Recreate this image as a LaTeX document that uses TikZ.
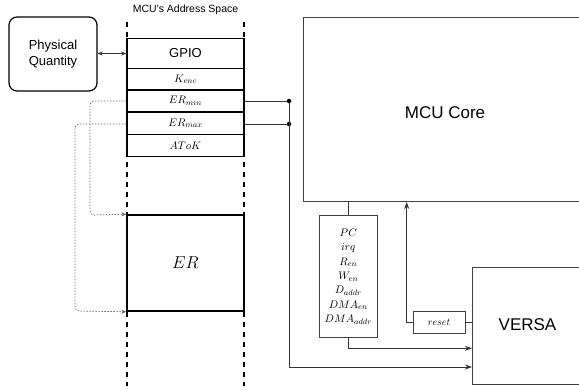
\documentclass[tikz,border=0pt]{standalone}
\usepackage{fontspec}
\setmainfont{Liberation Sans}
\usetikzlibrary{arrows.meta}
\begin{document}
\begin{tikzpicture}[x=1pt,y=-1pt,
  memcell/.style={draw,line width=1.5pt,minimum width=117pt,inner sep=0pt,font=\fontsize{11}{13}\selectfont},
  blk/.style={draw=black!75,line width=1pt,inner sep=0pt},
  conn/.style={draw=black!80,line width=1pt},
  dotconn/.style={draw=black!60,line width=0.7pt,dash pattern=on 1.5pt off 1.5pt,rounded corners=4pt,-{Stealth[length=5pt,width=4pt]}},
  arr/.style={-{Stealth[length=7pt,width=5pt]}},
  junc/.style={circle,fill=black,inner sep=0pt,minimum size=4.5pt}]
\useasboundingbox (0,0) rectangle (579,389);
\clip (0,0) rectangle (579,389);
% title
\node[font=\fontsize{10.5}{12}\selectfont] (title) at (185.5,10) {MCU's Address Space};
% address space dashed boundaries
\coordinate (lt) at (127,22); \coordinate (lb) at (127,386);
\coordinate (rt) at (244,22); \coordinate (rb) at (244,386);
\draw[line width=1.5pt,dash pattern=on 5pt off 5pt] (lt) -- (lb);
\draw[line width=1.5pt,dash pattern=on 5pt off 5pt] (rt) -- (rb);
% memory cells
\node[memcell,minimum height=30pt,font=\fontsize{13}{15}\selectfont] (gpio) at (185.5,53.5) {GPIO};
\node[memcell,minimum height=21.5pt] (kenc) at (185.5,79.25) {$K_{enc}$};
\node[memcell,minimum height=22pt] (ermin) at (185.5,101) {$ER_{min}$};
\node[memcell,minimum height=22.5pt] (ermax) at (185.5,123.25) {$ER_{max}$};
\node[memcell,minimum height=22pt] (atok) at (185.5,145.5) {$AToK$};
\node[memcell,minimum height=96pt,font=\fontsize{16}{18}\selectfont] (er) at (185.5,263) {$ER$};
% physical quantity
\node[draw,line width=1.2pt,rounded corners=8pt,minimum width=88pt,minimum height=74pt,align=center,font=\fontsize{13}{15.5}\selectfont] (pq) at (53,54) {Physical\\Quantity};
\draw[conn,line width=0.8pt,{Stealth[length=5pt,width=4pt]}-{Stealth[length=5pt,width=4pt]}] (pq.east |- gpio.west) -- (gpio.west);
% MCU core
\node[blk,minimum width=300pt,minimum height=184.3pt,anchor=north west] (mcu) at (302.7,16.7) {};
\node[font=\fontsize{17}{19}\selectfont] (mculbl) at (445,113) {MCU Core};
% VERSA
\node[blk,minimum width=150pt,minimum height=117pt,anchor=north west] (versa) at (472,267) {};
\node[font=\fontsize{17}{19}\selectfont] (versalbl) at (527.5,325) {VERSA};
% signal box
\node[blk,line width=0.8pt,minimum width=58.7pt,minimum height=122pt,align=center,font=\fontsize{11}{14.4}\selectfont] (sig) at (348.3,276.7)
 {$PC$\\$irq$\\$R_{en}$\\$W_{en}$\\$D_{addr}$\\$DMA_{en}$\\$DMA_{addr}$};
% reset box
\node[blk,line width=0.8pt,minimum width=52pt,minimum height=21.6pt,font=\fontsize{10}{12}\selectfont] (reset) at (439,322.5) {$reset$};
% junctions
\node[junc] (j1) at (289,101) {};
\node[junc] (j2) at (289,124) {};
\coordinate (jb) at (289,367);
\draw[conn] (ermin.east) -- (j1);
\draw[conn] (ermax.east |- j2) -- (j2);
\draw[conn,arr] (j1) -- (jb) -- (jb -| versa.west);
% MCU to signal box, signal box to VERSA
\draw[conn] (sig.north |- mcu.south) -- (sig.north);
\coordinate (sb) at (348.3,348.3);
\draw[conn,arr] (sig.south) -- (sb) -- (sb -| versa.west);
% reset path
\coordinate (rc) at (406.7,322.5);
\draw[conn] (versa.west |- reset.east) -- (reset.east);
\draw[conn,arr] (reset.west) -- (rc) -- (rc |- mcu.south);
% dotted pointers
\draw[dotconn] (ermin.west) -- (90,101) -- (90,215) -- (er.north west);
\draw[dotconn] (ermax.west |- j2) -- (75,124) -- (75,311) -- (er.south west);
\end{tikzpicture}
\end{document}
